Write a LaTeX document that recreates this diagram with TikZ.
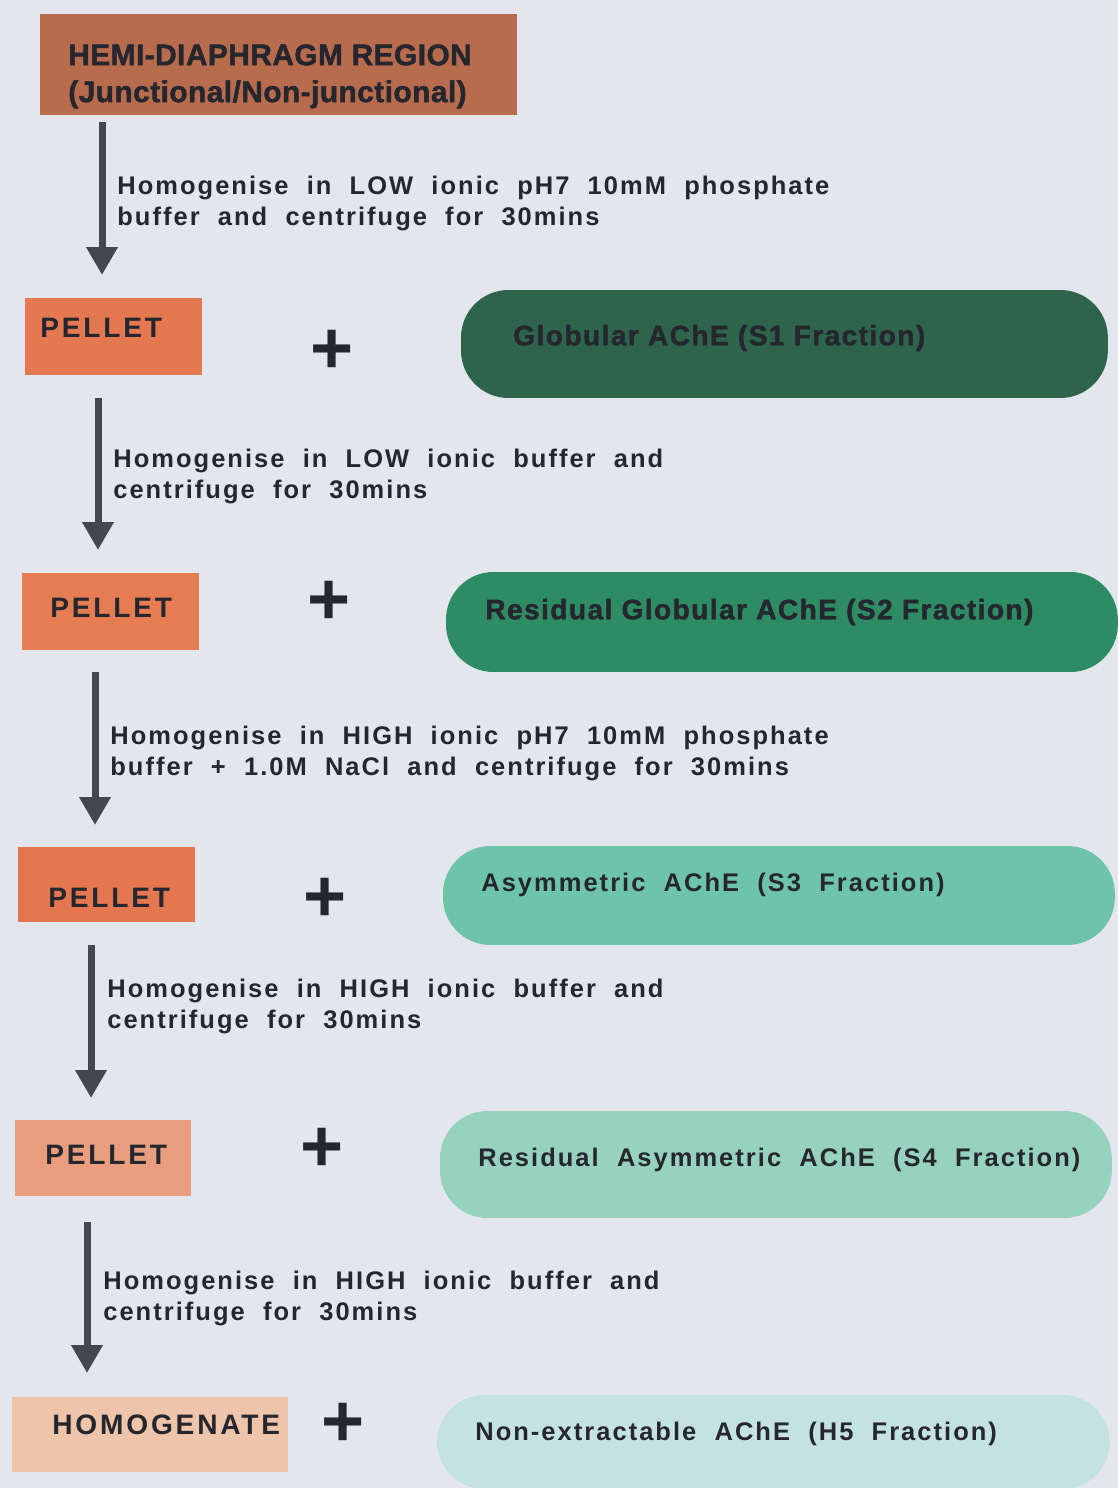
\documentclass[tikz,border=0pt]{standalone}
\usepackage{fontspec}
\setmainfont{Liberation Sans}
\newfontfamily\stepfont{Liberation Sans}[LetterSpace=8,WordSpace=2]
\newfontfamily\tagfont{Liberation Sans}[LetterSpace=10]
\newfontfamily\heavyfont{Liberation Sans}[LetterSpace=5,BoldFeatures={FakeBold=1.5}]
\newfontfamily\hemifont{Liberation Sans}[LetterSpace=1.5,BoldFeatures={FakeBold=1.5}]
\usetikzlibrary{arrows.meta}

\definecolor{paper}{HTML}{E3E6EC}
\definecolor{ink}{HTML}{26262E}
\definecolor{arrowgrey}{HTML}{46464F}
\definecolor{hemi}{HTML}{B86C4E}
\definecolor{pelletA}{HTML}{E47850}
\definecolor{pelletB}{HTML}{E67C52}
\definecolor{pelletC}{HTML}{E47650}
\definecolor{pelletD}{HTML}{E89E7E}
\definecolor{homog}{HTML}{EEC4AA}
\definecolor{fracA}{HTML}{2E644C}
\definecolor{fracB}{HTML}{2E8C64}
\definecolor{fracC}{HTML}{6EC4A8}
\definecolor{fracD}{HTML}{96D2BE}
\definecolor{fracE}{HTML}{C4E2DE}

\begin{document}
\begin{tikzpicture}[x=0.02cm,y=-0.02cm,
    box/.style={anchor=north west,inner sep=0pt,outer sep=0pt},
    pill/.style={box,rounded corners=0.95cm},
    stepnote/.style={anchor=north west,align=left,inner sep=0pt,text=ink,
      font=\stepfont\bfseries\fontsize{14.5}{17.6}\selectfont},
    tag/.style={anchor=west,inner sep=0pt,text=ink,
      font=\tagfont\bfseries\fontsize{16}{18}\selectfont},
    fraction/.style={anchor=west,inner sep=0pt,text=ink,
      font=\stepfont\bfseries\fontsize{14.5}{17}\selectfont},
    heavy/.style={anchor=west,inner sep=0pt,text=ink,
      font=\heavyfont\bfseries\fontsize{16}{18}\selectfont},
    plusmark/.style={inner sep=0pt,text=ink,font=\bfseries\fontsize{42}{42}\selectfont},
    flow/.style={draw=arrowgrey,line width=0.14cm,-{Triangle[length=0.56cm,width=0.6cm]}}]
  \fill [paper] (0,0) rectangle (1118,1488);
  \useasboundingbox (0,0) rectangle (1118,1488);

  % tissue
  \node [box,fill=hemi,minimum width=9.54cm,minimum height=2.02cm] (hemi) at (40,14) {};
  \node [anchor=north west,align=left,inner sep=0pt,text=ink,
    font=\hemifont\bfseries\fontsize{17}{21}\selectfont] (hemitext) at (68,44)
    {HEMI-DIAPHRAGM REGION\\(Junctional/Non-junctional)};

  % pellets
  \node [box,fill=pelletA,minimum width=3.54cm,minimum height=1.54cm] (pel1) at (25,298) {};
  \node [box,fill=pelletB,minimum width=3.54cm,minimum height=1.54cm] (pel2) at (22,573) {};
  \node [box,fill=pelletC,minimum width=3.54cm,minimum height=1.50cm] (pel3) at (18,847) {};
  \node [box,fill=pelletD,minimum width=3.52cm,minimum height=1.52cm] (pel4) at (15,1120) {};
  \node [box,fill=homog,minimum width=5.52cm,minimum height=1.50cm] (hom) at (12,1397) {};
  \node [tag] (pel1text) at (40,328) {PELLET};
  \node [tag] (pel2text) at (50,608) {PELLET};
  \node [tag] (pel3text) at (48,898) {PELLET};
  \node [tag] (pel4text) at (45,1155) {PELLET};
  \node [tag] (homtext) at (52,1425) {HOMOGENATE};

  % fractions
  \node [pill,fill=fracA,minimum width=12.94cm,minimum height=2.16cm] (s1) at (461,290) {};
  \node [pill,fill=fracB,minimum width=13.44cm,minimum height=2.00cm] (s2) at (446,572) {};
  \node [pill,fill=fracC,minimum width=13.44cm,minimum height=1.98cm] (s3) at (443,846) {};
  \node [pill,fill=fracD,minimum width=13.44cm,minimum height=2.14cm] (s4) at (440,1111) {};
  \node [pill,fill=fracE,minimum width=13.46cm,minimum height=1.88cm] (h5) at (437,1395) {};
  \node [heavy] (s1text) at (513,338) {Globular AChE (S1 Fraction)};
  \node [heavy] (s2text) at (485,612) {Residual Globular AChE (S2 Fraction)};
  \node [fraction] (s3text) at (481,885) {Asymmetric AChE (S3 Fraction)};
  \node [fraction] (s4text) at (478,1160) {Residual Asymmetric AChE (S4 Fraction)};
  \node [fraction] (h5text) at (475,1434) {Non-extractable AChE (H5 Fraction)};

  % plus signs
  \node [plusmark] (plus1) at (332,352) {+};
  \node [plusmark] (plus2) at (329,603) {+};
  \node [plusmark] (plus3) at (325,900) {+};
  \node [plusmark] (plus4) at (322,1150) {+};
  \node [plusmark] (plus5) at (343,1425) {+};

  % steps
  \node [stepnote] (step1) at (117,176)
    {Homogenise in LOW ionic pH7 10mM phosphate\\buffer and centrifuge for 30mins};
  \node [stepnote] (step2) at (113,449)
    {Homogenise in LOW ionic buffer and\\centrifuge for 30mins};
  \node [stepnote] (step3) at (110,726)
    {Homogenise in HIGH ionic pH7 10mM phosphate\\buffer + 1.0M NaCl and centrifuge for 30mins};
  \node [stepnote] (step4) at (107,979)
    {Homogenise in HIGH ionic buffer and\\centrifuge for 30mins};
  \node [stepnote] (step5) at (103,1271)
    {Homogenise in HIGH ionic buffer and\\centrifuge for 30mins};

  \foreach \i/\x/\ya/\yb in {1/102/122/275,2/98/398/550,3/95/672/825,4/91/945/1098,5/87/1222/1373}
  {
    \coordinate (from\i) at (\x,\ya);
    \coordinate (to\i) at (\x,\yb);
    \draw [flow] (from\i) -- (to\i);
  }
\end{tikzpicture}
\end{document}
